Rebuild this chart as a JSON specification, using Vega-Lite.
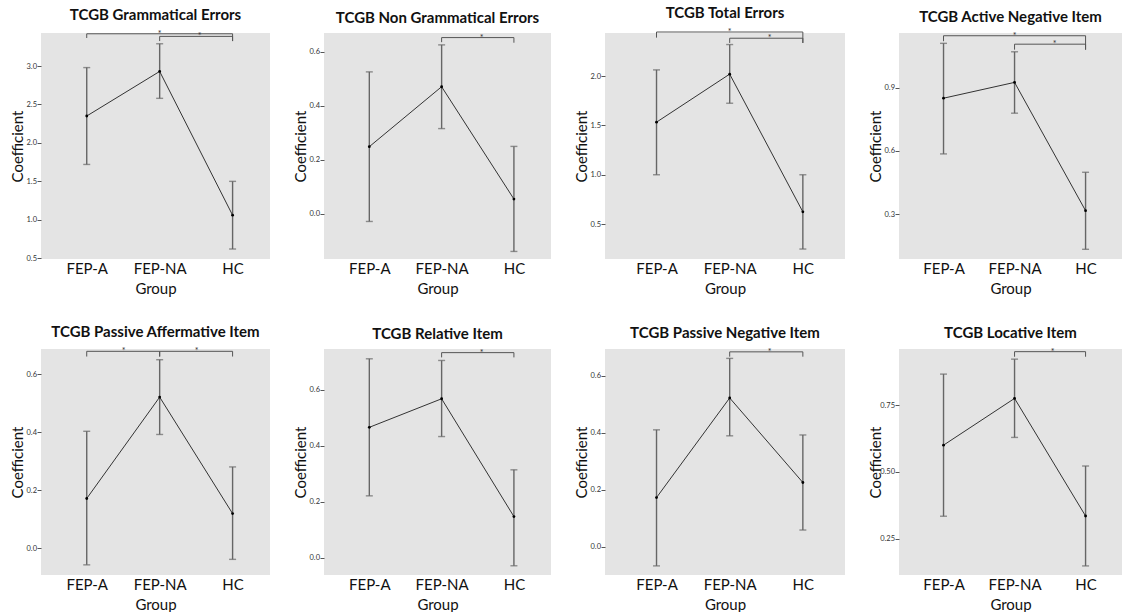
{
"$schema":"https://vega.github.io/schema/vega-lite/v6.json",
"padding":{"left":10,"top":6,"right":0,"bottom":0},
"background":"#ffffff",
"config":{
 "view":{"fill":"#e4e4e4","stroke":null},
 "font":"Lato",
 "title":{"font":"Lato","fontSize":15,"fontWeight":"bold","color":"#111","frame":"group","anchor":"middle","offset":7},
 "axis":{"labelFont":"Lato","titleFont":"Lato","titleFontWeight":"normal","grid":false,"domain":false},
 "axisX":{"labelFontSize":15,"titleFontSize":15,"ticks":false,"labelPadding":2,"titlePadding":5,"labelAngle":0,"labelColor":"#111","titleColor":"#111"},
 "axisY":{"labelFontSize":7.5,"labelColor":"#333","tickSize":4,"tickColor":"#555","labelPadding":0.5,"titleFontSize":15,"titlePadding":5,"minExtent":11,"maxExtent":11,"titleColor":"#111"}
},
"datasets":{
 "means":[
  {"panel":"P1","group":"FEP-A","mean":2.35,"lo":1.72,"hi":2.98},
  {"panel":"P1","group":"FEP-NA","mean":2.93,"lo":2.58,"hi":3.29},
  {"panel":"P1","group":"HC","mean":1.06,"lo":0.62,"hi":1.50},
  {"panel":"P2","group":"FEP-A","mean":0.248,"lo":-0.029,"hi":0.525},
  {"panel":"P2","group":"FEP-NA","mean":0.47,"lo":0.315,"hi":0.625},
  {"panel":"P2","group":"HC","mean":0.054,"lo":-0.14,"hi":0.249},
  {"panel":"P3","group":"FEP-A","mean":1.533,"lo":1.0,"hi":2.063},
  {"panel":"P3","group":"FEP-NA","mean":2.02,"lo":1.725,"hi":2.32},
  {"panel":"P3","group":"HC","mean":0.624,"lo":0.247,"hi":1.0},
  {"panel":"P4","group":"FEP-A","mean":0.85,"lo":0.586,"hi":1.11},
  {"panel":"P4","group":"FEP-NA","mean":0.925,"lo":0.779,"hi":1.07},
  {"panel":"P4","group":"HC","mean":0.317,"lo":0.134,"hi":0.499},
  {"panel":"P5","group":"FEP-A","mean":0.172,"lo":-0.057,"hi":0.404},
  {"panel":"P5","group":"FEP-NA","mean":0.522,"lo":0.393,"hi":0.651},
  {"panel":"P5","group":"HC","mean":0.12,"lo":-0.038,"hi":0.281},
  {"panel":"P6","group":"FEP-A","mean":0.466,"lo":0.221,"hi":0.711},
  {"panel":"P6","group":"FEP-NA","mean":0.568,"lo":0.433,"hi":0.705},
  {"panel":"P6","group":"HC","mean":0.147,"lo":-0.029,"hi":0.314},
  {"panel":"P7","group":"FEP-A","mean":0.172,"lo":-0.068,"hi":0.41},
  {"panel":"P7","group":"FEP-NA","mean":0.522,"lo":0.389,"hi":0.661},
  {"panel":"P7","group":"HC","mean":0.225,"lo":0.058,"hi":0.392},
  {"panel":"P8","group":"FEP-A","mean":0.60,"lo":0.334,"hi":0.866},
  {"panel":"P8","group":"FEP-NA","mean":0.775,"lo":0.629,"hi":0.922},
  {"panel":"P8","group":"HC","mean":0.335,"lo":0.148,"hi":0.522}
 ],
 "brackets":[
  {"panel":"P1","b":1,"o":1,"group":"FEP-A","v":3.365},{"panel":"P1","b":1,"o":2,"group":"FEP-A","v":3.42},{"panel":"P1","b":1,"o":3,"group":"HC","v":3.42},{"panel":"P1","b":1,"o":4,"group":"HC","v":3.325},
  {"panel":"P1","b":2,"o":1,"group":"FEP-NA","v":3.325},{"panel":"P1","b":2,"o":2,"group":"FEP-NA","v":3.386},{"panel":"P1","b":2,"o":3,"group":"HC","v":3.386},{"panel":"P1","b":2,"o":4,"group":"HC","v":3.325},
  {"panel":"P2","b":1,"o":1,"group":"FEP-NA","v":0.635},{"panel":"P2","b":1,"o":2,"group":"FEP-NA","v":0.652},{"panel":"P2","b":1,"o":3,"group":"HC","v":0.652},{"panel":"P2","b":1,"o":4,"group":"HC","v":0.633},
  {"panel":"P3","b":1,"o":1,"group":"FEP-A","v":2.39},{"panel":"P3","b":1,"o":2,"group":"FEP-A","v":2.447},{"panel":"P3","b":1,"o":3,"group":"HC","v":2.447},{"panel":"P3","b":1,"o":4,"group":"HC","v":2.336},
  {"panel":"P3","b":2,"o":1,"group":"FEP-NA","v":2.336},{"panel":"P3","b":2,"o":2,"group":"FEP-NA","v":2.384},{"panel":"P3","b":2,"o":3,"group":"HC","v":2.384},{"panel":"P3","b":2,"o":4,"group":"HC","v":2.336},
  {"panel":"P4","b":1,"o":1,"group":"FEP-A","v":1.12},{"panel":"P4","b":1,"o":2,"group":"FEP-A","v":1.146},{"panel":"P4","b":1,"o":3,"group":"HC","v":1.146},{"panel":"P4","b":1,"o":4,"group":"HC","v":1.08},
  {"panel":"P4","b":2,"o":1,"group":"FEP-NA","v":1.08},{"panel":"P4","b":2,"o":2,"group":"FEP-NA","v":1.106},{"panel":"P4","b":2,"o":3,"group":"HC","v":1.106},{"panel":"P4","b":2,"o":4,"group":"HC","v":1.08},
  {"panel":"P5","b":1,"o":1,"group":"FEP-A","v":0.662},{"panel":"P5","b":1,"o":2,"group":"FEP-A","v":0.68},{"panel":"P5","b":1,"o":3,"group":"FEP-NA","v":0.68},{"panel":"P5","b":1,"o":4,"group":"FEP-NA","v":0.662},
  {"panel":"P5","b":2,"o":1,"group":"FEP-NA","v":0.662},{"panel":"P5","b":2,"o":2,"group":"FEP-NA","v":0.68},{"panel":"P5","b":2,"o":3,"group":"HC","v":0.68},{"panel":"P5","b":2,"o":4,"group":"HC","v":0.662},
  {"panel":"P6","b":1,"o":1,"group":"FEP-NA","v":0.716},{"panel":"P6","b":1,"o":2,"group":"FEP-NA","v":0.733},{"panel":"P6","b":1,"o":3,"group":"HC","v":0.733},{"panel":"P6","b":1,"o":4,"group":"HC","v":0.716},
  {"panel":"P7","b":1,"o":1,"group":"FEP-NA","v":0.667},{"panel":"P7","b":1,"o":2,"group":"FEP-NA","v":0.684},{"panel":"P7","b":1,"o":3,"group":"HC","v":0.684},{"panel":"P7","b":1,"o":4,"group":"HC","v":0.667},
  {"panel":"P8","b":1,"o":1,"group":"FEP-NA","v":0.931},{"panel":"P8","b":1,"o":2,"group":"FEP-NA","v":0.95},{"panel":"P8","b":1,"o":3,"group":"HC","v":0.95},{"panel":"P8","b":1,"o":4,"group":"HC","v":0.931}
 ],
 "stars":[
  {"panel":"P1","group":"FEP-NA","v":3.42,"mid":false},{"panel":"P1","group":"FEP-NA","v":3.386,"mid":true},
  {"panel":"P2","group":"FEP-NA","v":0.652,"mid":true},
  {"panel":"P3","group":"FEP-NA","v":2.447,"mid":false},{"panel":"P3","group":"FEP-NA","v":2.384,"mid":true},
  {"panel":"P4","group":"FEP-NA","v":1.146,"mid":false},{"panel":"P4","group":"FEP-NA","v":1.106,"mid":true},
  {"panel":"P5","group":"FEP-A","v":0.68,"mid":true},{"panel":"P5","group":"FEP-NA","v":0.68,"mid":true},
  {"panel":"P6","group":"FEP-NA","v":0.733,"mid":true},
  {"panel":"P7","group":"FEP-NA","v":0.684,"mid":true},
  {"panel":"P8","group":"FEP-NA","v":0.95,"mid":true}
 ]
},
"spacing":29,
"vconcat":[
{"spacing":23,"hconcat":[
 {"title":"TCGB Grammatical Errors","width":229,"height":226,"layer":[
  {"data":{"name":"means"},"transform":[{"filter":"datum.panel==='P1'"}],
   "encoding":{"x":{"field":"group","type":"nominal","title":"Group","sort":["FEP-A","FEP-NA","HC"],"scale":{"type":"point","padding":0.57,"align":0.55}}},
   "layer":[
    {"mark":{"type":"rule","color":"#666","strokeWidth":1.4},"encoding":{"y":{"field":"lo","type":"quantitative","title":"Coefficient","scale":{"domain":[0.49,3.43],"nice":false,"zero":false},"axis":{"values":[0.5,1,1.5,2,2.5,3],"format":".1f"}},"y2":{"field":"hi"}}},
    {"mark":{"type":"tick","orient":"horizontal","size":7,"thickness":1.4,"color":"#666"},"encoding":{"y":{"field":"lo","type":"quantitative","title":"Coefficient"}}},
    {"mark":{"type":"tick","orient":"horizontal","size":7,"thickness":1.4,"color":"#666"},"encoding":{"y":{"field":"hi","type":"quantitative","title":"Coefficient"}}},
    {"mark":{"type":"line","color":"#333","strokeWidth":1},"encoding":{"y":{"field":"mean","type":"quantitative","title":"Coefficient"}}},
    {"mark":{"type":"point","filled":true,"size":8,"color":"#000","opacity":1},"encoding":{"y":{"field":"mean","type":"quantitative","title":"Coefficient"}}}
   ]},
  {"data":{"name":"brackets"},"transform":[{"filter":"datum.panel==='P1'"}],"mark":{"type":"line","color":"#555","strokeWidth":1,"clip":false},"encoding":{"x":{"field":"group","type":"nominal","title":"Group","sort":["FEP-A","FEP-NA","HC"],"scale":{"type":"point","padding":0.57,"align":0.55}},"y":{"field":"v","type":"quantitative","title":"Coefficient"},"detail":{"field":"b"},"order":{"field":"o"}}},
  {"data":{"name":"stars"},"transform":[{"filter":"datum.panel==='P1' && !datum.mid"}],"mark":{"type":"text","text":"*","fontSize":9,"dy":3,"baseline":"alphabetic","color":"#333","clip":false},"encoding":{"x":{"field":"group","type":"nominal","title":"Group","sort":["FEP-A","FEP-NA","HC"],"scale":{"type":"point","padding":0.57,"align":0.55}},"y":{"field":"v","type":"quantitative","title":"Coefficient"}}},
  {"data":{"name":"stars"},"transform":[{"filter":"datum.panel==='P1' && datum.mid"}],"mark":{"type":"text","text":"*","fontSize":9,"dy":3,"dx":40,"baseline":"alphabetic","color":"#333","clip":false},"encoding":{"x":{"field":"group","type":"nominal","title":"Group","sort":["FEP-A","FEP-NA","HC"],"scale":{"type":"point","padding":0.57,"align":0.55}},"y":{"field":"v","type":"quantitative","title":"Coefficient"}}}
 ]},
 {"title":"TCGB Non Grammatical Errors","width":227,"height":226,"layer":[
  {"data":{"name":"means"},"transform":[{"filter":"datum.panel==='P2'"}],
   "encoding":{"x":{"field":"group","type":"nominal","title":"Group","sort":["FEP-A","FEP-NA","HC"],"scale":{"type":"point","padding":0.57,"align":0.55}}},
   "layer":[
    {"mark":{"type":"rule","color":"#666","strokeWidth":1.4},"encoding":{"y":{"field":"lo","type":"quantitative","title":"Coefficient","scale":{"domain":[-0.168,0.669],"nice":false,"zero":false},"axis":{"values":[0,0.2,0.4,0.6],"format":".1f"}},"y2":{"field":"hi"}}},
    {"mark":{"type":"tick","orient":"horizontal","size":7,"thickness":1.4,"color":"#666"},"encoding":{"y":{"field":"lo","type":"quantitative","title":"Coefficient"}}},
    {"mark":{"type":"tick","orient":"horizontal","size":7,"thickness":1.4,"color":"#666"},"encoding":{"y":{"field":"hi","type":"quantitative","title":"Coefficient"}}},
    {"mark":{"type":"line","color":"#333","strokeWidth":1},"encoding":{"y":{"field":"mean","type":"quantitative","title":"Coefficient"}}},
    {"mark":{"type":"point","filled":true,"size":8,"color":"#000","opacity":1},"encoding":{"y":{"field":"mean","type":"quantitative","title":"Coefficient"}}}
   ]},
  {"data":{"name":"brackets"},"transform":[{"filter":"datum.panel==='P2'"}],"mark":{"type":"line","color":"#555","strokeWidth":1,"clip":false},"encoding":{"x":{"field":"group","type":"nominal","title":"Group","sort":["FEP-A","FEP-NA","HC"],"scale":{"type":"point","padding":0.57,"align":0.55}},"y":{"field":"v","type":"quantitative","title":"Coefficient"},"detail":{"field":"b"},"order":{"field":"o"}}},
  {"data":{"name":"stars"},"transform":[{"filter":"datum.panel==='P2' && datum.mid"}],"mark":{"type":"text","text":"*","fontSize":9,"dy":3,"dx":40,"baseline":"alphabetic","color":"#333","clip":false},"encoding":{"x":{"field":"group","type":"nominal","title":"Group","sort":["FEP-A","FEP-NA","HC"],"scale":{"type":"point","padding":0.57,"align":0.55}},"y":{"field":"v","type":"quantitative","title":"Coefficient"}}}
 ]},
 {"title":"TCGB Total Errors","width":240,"height":226,"layer":[
  {"data":{"name":"means"},"transform":[{"filter":"datum.panel==='P3'"}],
   "encoding":{"x":{"field":"group","type":"nominal","title":"Group","sort":["FEP-A","FEP-NA","HC"],"scale":{"type":"point","padding":0.64,"align":0.55}}},
   "layer":[
    {"mark":{"type":"rule","color":"#666","strokeWidth":1.4},"encoding":{"y":{"field":"lo","type":"quantitative","title":"Coefficient","scale":{"domain":[0.146,2.437],"nice":false,"zero":false},"axis":{"values":[0.5,1,1.5,2],"format":".1f"}},"y2":{"field":"hi"}}},
    {"mark":{"type":"tick","orient":"horizontal","size":7,"thickness":1.4,"color":"#666"},"encoding":{"y":{"field":"lo","type":"quantitative","title":"Coefficient"}}},
    {"mark":{"type":"tick","orient":"horizontal","size":7,"thickness":1.4,"color":"#666"},"encoding":{"y":{"field":"hi","type":"quantitative","title":"Coefficient"}}},
    {"mark":{"type":"line","color":"#333","strokeWidth":1},"encoding":{"y":{"field":"mean","type":"quantitative","title":"Coefficient"}}},
    {"mark":{"type":"point","filled":true,"size":8,"color":"#000","opacity":1},"encoding":{"y":{"field":"mean","type":"quantitative","title":"Coefficient"}}}
   ]},
  {"data":{"name":"brackets"},"transform":[{"filter":"datum.panel==='P3'"}],"mark":{"type":"line","color":"#555","strokeWidth":1,"clip":false},"encoding":{"x":{"field":"group","type":"nominal","title":"Group","sort":["FEP-A","FEP-NA","HC"],"scale":{"type":"point","padding":0.64,"align":0.55}},"y":{"field":"v","type":"quantitative","title":"Coefficient"},"detail":{"field":"b"},"order":{"field":"o"}}},
  {"data":{"name":"stars"},"transform":[{"filter":"datum.panel==='P3' && !datum.mid"}],"mark":{"type":"text","text":"*","fontSize":9,"dy":3,"baseline":"alphabetic","color":"#333","clip":false},"encoding":{"x":{"field":"group","type":"nominal","title":"Group","sort":["FEP-A","FEP-NA","HC"],"scale":{"type":"point","padding":0.64,"align":0.55}},"y":{"field":"v","type":"quantitative","title":"Coefficient"}}},
  {"data":{"name":"stars"},"transform":[{"filter":"datum.panel==='P3' && datum.mid"}],"mark":{"type":"text","text":"*","fontSize":9,"dy":3,"dx":40,"baseline":"alphabetic","color":"#333","clip":false},"encoding":{"x":{"field":"group","type":"nominal","title":"Group","sort":["FEP-A","FEP-NA","HC"],"scale":{"type":"point","padding":0.64,"align":0.55}},"y":{"field":"v","type":"quantitative","title":"Coefficient"}}}
 ]},
 {"title":"TCGB Active Negative Item","width":223,"height":226,"layer":[
  {"data":{"name":"means"},"transform":[{"filter":"datum.panel==='P4'"}],
   "encoding":{"x":{"field":"group","type":"nominal","title":"Group","sort":["FEP-A","FEP-NA","HC"],"scale":{"type":"point","padding":0.57,"align":0.55}}},
   "layer":[
    {"mark":{"type":"rule","color":"#666","strokeWidth":1.4},"encoding":{"y":{"field":"lo","type":"quantitative","title":"Coefficient","scale":{"domain":[0.088,1.159],"nice":false,"zero":false},"axis":{"values":[0.3,0.6,0.9],"format":".1f"}},"y2":{"field":"hi"}}},
    {"mark":{"type":"tick","orient":"horizontal","size":7,"thickness":1.4,"color":"#666"},"encoding":{"y":{"field":"lo","type":"quantitative","title":"Coefficient"}}},
    {"mark":{"type":"tick","orient":"horizontal","size":7,"thickness":1.4,"color":"#666"},"encoding":{"y":{"field":"hi","type":"quantitative","title":"Coefficient"}}},
    {"mark":{"type":"line","color":"#333","strokeWidth":1},"encoding":{"y":{"field":"mean","type":"quantitative","title":"Coefficient"}}},
    {"mark":{"type":"point","filled":true,"size":8,"color":"#000","opacity":1},"encoding":{"y":{"field":"mean","type":"quantitative","title":"Coefficient"}}}
   ]},
  {"data":{"name":"brackets"},"transform":[{"filter":"datum.panel==='P4'"}],"mark":{"type":"line","color":"#555","strokeWidth":1,"clip":false},"encoding":{"x":{"field":"group","type":"nominal","title":"Group","sort":["FEP-A","FEP-NA","HC"],"scale":{"type":"point","padding":0.57,"align":0.55}},"y":{"field":"v","type":"quantitative","title":"Coefficient"},"detail":{"field":"b"},"order":{"field":"o"}}},
  {"data":{"name":"stars"},"transform":[{"filter":"datum.panel==='P4' && !datum.mid"}],"mark":{"type":"text","text":"*","fontSize":9,"dy":3,"baseline":"alphabetic","color":"#333","clip":false},"encoding":{"x":{"field":"group","type":"nominal","title":"Group","sort":["FEP-A","FEP-NA","HC"],"scale":{"type":"point","padding":0.57,"align":0.55}},"y":{"field":"v","type":"quantitative","title":"Coefficient"}}},
  {"data":{"name":"stars"},"transform":[{"filter":"datum.panel==='P4' && datum.mid"}],"mark":{"type":"text","text":"*","fontSize":9,"dy":3,"dx":40,"baseline":"alphabetic","color":"#333","clip":false},"encoding":{"x":{"field":"group","type":"nominal","title":"Group","sort":["FEP-A","FEP-NA","HC"],"scale":{"type":"point","padding":0.57,"align":0.55}},"y":{"field":"v","type":"quantitative","title":"Coefficient"}}}
 ]}
]},
{"spacing":23,"hconcat":[
 {"title":"TCGB Passive Affermative Item","width":229,"height":226,"layer":[
  {"data":{"name":"means"},"transform":[{"filter":"datum.panel==='P5'"}],
   "encoding":{"x":{"field":"group","type":"nominal","title":"Group","sort":["FEP-A","FEP-NA","HC"],"scale":{"type":"point","padding":0.57,"align":0.55}}},
   "layer":[
    {"mark":{"type":"rule","color":"#666","strokeWidth":1.4},"encoding":{"y":{"field":"lo","type":"quantitative","title":"Coefficient","scale":{"domain":[-0.092,0.688],"nice":false,"zero":false},"axis":{"values":[0,0.2,0.4,0.6],"format":".1f"}},"y2":{"field":"hi"}}},
    {"mark":{"type":"tick","orient":"horizontal","size":7,"thickness":1.4,"color":"#666"},"encoding":{"y":{"field":"lo","type":"quantitative","title":"Coefficient"}}},
    {"mark":{"type":"tick","orient":"horizontal","size":7,"thickness":1.4,"color":"#666"},"encoding":{"y":{"field":"hi","type":"quantitative","title":"Coefficient"}}},
    {"mark":{"type":"line","color":"#333","strokeWidth":1},"encoding":{"y":{"field":"mean","type":"quantitative","title":"Coefficient"}}},
    {"mark":{"type":"point","filled":true,"size":8,"color":"#000","opacity":1},"encoding":{"y":{"field":"mean","type":"quantitative","title":"Coefficient"}}}
   ]},
  {"data":{"name":"brackets"},"transform":[{"filter":"datum.panel==='P5'"}],"mark":{"type":"line","color":"#555","strokeWidth":1,"clip":false},"encoding":{"x":{"field":"group","type":"nominal","title":"Group","sort":["FEP-A","FEP-NA","HC"],"scale":{"type":"point","padding":0.57,"align":0.55}},"y":{"field":"v","type":"quantitative","title":"Coefficient"},"detail":{"field":"b"},"order":{"field":"o"}}},
  {"data":{"name":"stars"},"transform":[{"filter":"datum.panel==='P5' && datum.mid"}],"mark":{"type":"text","text":"*","fontSize":9,"dy":3,"dx":37,"baseline":"alphabetic","color":"#333","clip":false},"encoding":{"x":{"field":"group","type":"nominal","title":"Group","sort":["FEP-A","FEP-NA","HC"],"scale":{"type":"point","padding":0.57,"align":0.55}},"y":{"field":"v","type":"quantitative","title":"Coefficient"}}}
 ]},
 {"title":"TCGB Relative Item","width":227,"height":226,"layer":[
  {"data":{"name":"means"},"transform":[{"filter":"datum.panel==='P6'"}],
   "encoding":{"x":{"field":"group","type":"nominal","title":"Group","sort":["FEP-A","FEP-NA","HC"],"scale":{"type":"point","padding":0.57,"align":0.55}}},
   "layer":[
    {"mark":{"type":"rule","color":"#666","strokeWidth":1.4},"encoding":{"y":{"field":"lo","type":"quantitative","title":"Coefficient","scale":{"domain":[-0.062,0.746],"nice":false,"zero":false},"axis":{"values":[0,0.2,0.4,0.6],"format":".1f"}},"y2":{"field":"hi"}}},
    {"mark":{"type":"tick","orient":"horizontal","size":7,"thickness":1.4,"color":"#666"},"encoding":{"y":{"field":"lo","type":"quantitative","title":"Coefficient"}}},
    {"mark":{"type":"tick","orient":"horizontal","size":7,"thickness":1.4,"color":"#666"},"encoding":{"y":{"field":"hi","type":"quantitative","title":"Coefficient"}}},
    {"mark":{"type":"line","color":"#333","strokeWidth":1},"encoding":{"y":{"field":"mean","type":"quantitative","title":"Coefficient"}}},
    {"mark":{"type":"point","filled":true,"size":8,"color":"#000","opacity":1},"encoding":{"y":{"field":"mean","type":"quantitative","title":"Coefficient"}}}
   ]},
  {"data":{"name":"brackets"},"transform":[{"filter":"datum.panel==='P6'"}],"mark":{"type":"line","color":"#555","strokeWidth":1,"clip":false},"encoding":{"x":{"field":"group","type":"nominal","title":"Group","sort":["FEP-A","FEP-NA","HC"],"scale":{"type":"point","padding":0.57,"align":0.55}},"y":{"field":"v","type":"quantitative","title":"Coefficient"},"detail":{"field":"b"},"order":{"field":"o"}}},
  {"data":{"name":"stars"},"transform":[{"filter":"datum.panel==='P6' && datum.mid"}],"mark":{"type":"text","text":"*","fontSize":9,"dy":3,"dx":40,"baseline":"alphabetic","color":"#333","clip":false},"encoding":{"x":{"field":"group","type":"nominal","title":"Group","sort":["FEP-A","FEP-NA","HC"],"scale":{"type":"point","padding":0.57,"align":0.55}},"y":{"field":"v","type":"quantitative","title":"Coefficient"}}}
 ]},
 {"title":"TCGB Passive Negative Item","width":240,"height":226,"layer":[
  {"data":{"name":"means"},"transform":[{"filter":"datum.panel==='P7'"}],
   "encoding":{"x":{"field":"group","type":"nominal","title":"Group","sort":["FEP-A","FEP-NA","HC"],"scale":{"type":"point","padding":0.64,"align":0.55}}},
   "layer":[
    {"mark":{"type":"rule","color":"#666","strokeWidth":1.4},"encoding":{"y":{"field":"lo","type":"quantitative","title":"Coefficient","scale":{"domain":[-0.1,0.694],"nice":false,"zero":false},"axis":{"values":[0,0.2,0.4,0.6],"format":".1f"}},"y2":{"field":"hi"}}},
    {"mark":{"type":"tick","orient":"horizontal","size":7,"thickness":1.4,"color":"#666"},"encoding":{"y":{"field":"lo","type":"quantitative","title":"Coefficient"}}},
    {"mark":{"type":"tick","orient":"horizontal","size":7,"thickness":1.4,"color":"#666"},"encoding":{"y":{"field":"hi","type":"quantitative","title":"Coefficient"}}},
    {"mark":{"type":"line","color":"#333","strokeWidth":1},"encoding":{"y":{"field":"mean","type":"quantitative","title":"Coefficient"}}},
    {"mark":{"type":"point","filled":true,"size":8,"color":"#000","opacity":1},"encoding":{"y":{"field":"mean","type":"quantitative","title":"Coefficient"}}}
   ]},
  {"data":{"name":"brackets"},"transform":[{"filter":"datum.panel==='P7'"}],"mark":{"type":"line","color":"#555","strokeWidth":1,"clip":false},"encoding":{"x":{"field":"group","type":"nominal","title":"Group","sort":["FEP-A","FEP-NA","HC"],"scale":{"type":"point","padding":0.64,"align":0.55}},"y":{"field":"v","type":"quantitative","title":"Coefficient"},"detail":{"field":"b"},"order":{"field":"o"}}},
  {"data":{"name":"stars"},"transform":[{"filter":"datum.panel==='P7' && datum.mid"}],"mark":{"type":"text","text":"*","fontSize":9,"dy":3,"dx":40,"baseline":"alphabetic","color":"#333","clip":false},"encoding":{"x":{"field":"group","type":"nominal","title":"Group","sort":["FEP-A","FEP-NA","HC"],"scale":{"type":"point","padding":0.64,"align":0.55}},"y":{"field":"v","type":"quantitative","title":"Coefficient"}}}
 ]},
 {"title":"TCGB Locative Item","width":223,"height":226,"layer":[
  {"data":{"name":"means"},"transform":[{"filter":"datum.panel==='P8'"}],
   "encoding":{"x":{"field":"group","type":"nominal","title":"Group","sort":["FEP-A","FEP-NA","HC"],"scale":{"type":"point","padding":0.57,"align":0.55}}},
   "layer":[
    {"mark":{"type":"rule","color":"#666","strokeWidth":1.4},"encoding":{"y":{"field":"lo","type":"quantitative","title":"Coefficient","scale":{"domain":[0.114,0.96],"nice":false,"zero":false},"axis":{"values":[0.25,0.5,0.75],"format":".2f"}},"y2":{"field":"hi"}}},
    {"mark":{"type":"tick","orient":"horizontal","size":7,"thickness":1.4,"color":"#666"},"encoding":{"y":{"field":"lo","type":"quantitative","title":"Coefficient"}}},
    {"mark":{"type":"tick","orient":"horizontal","size":7,"thickness":1.4,"color":"#666"},"encoding":{"y":{"field":"hi","type":"quantitative","title":"Coefficient"}}},
    {"mark":{"type":"line","color":"#333","strokeWidth":1},"encoding":{"y":{"field":"mean","type":"quantitative","title":"Coefficient"}}},
    {"mark":{"type":"point","filled":true,"size":8,"color":"#000","opacity":1},"encoding":{"y":{"field":"mean","type":"quantitative","title":"Coefficient"}}}
   ]},
  {"data":{"name":"brackets"},"transform":[{"filter":"datum.panel==='P8'"}],"mark":{"type":"line","color":"#555","strokeWidth":1,"clip":false},"encoding":{"x":{"field":"group","type":"nominal","title":"Group","sort":["FEP-A","FEP-NA","HC"],"scale":{"type":"point","padding":0.57,"align":0.55}},"y":{"field":"v","type":"quantitative","title":"Coefficient"},"detail":{"field":"b"},"order":{"field":"o"}}},
  {"data":{"name":"stars"},"transform":[{"filter":"datum.panel==='P8' && datum.mid"}],"mark":{"type":"text","text":"*","fontSize":9,"dy":3,"dx":38,"baseline":"alphabetic","color":"#333","clip":false},"encoding":{"x":{"field":"group","type":"nominal","title":"Group","sort":["FEP-A","FEP-NA","HC"],"scale":{"type":"point","padding":0.57,"align":0.55}},"y":{"field":"v","type":"quantitative","title":"Coefficient"}}}
 ]}
]}
]
}
